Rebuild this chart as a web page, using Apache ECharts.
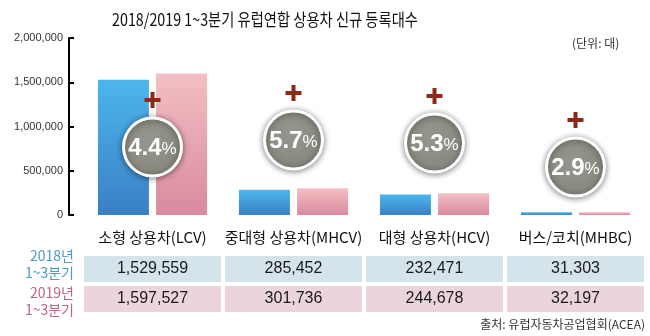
<!DOCTYPE html>
<html>
<head>
<meta charset="utf-8">
<script src="https://cdn.jsdelivr.net/npm/echarts@6/dist/echarts.min.js"></script>
<style>
  html, body { margin: 0; padding: 0; background: #fff; }
  #chart { width: 650px; height: 336px; }
</style>
</head>
<body>
<div id="chart"></div>
<script>
// EU commercial vehicle registrations, Q1–Q3 2018 vs 2019
const categories = ['소형 상용차(LCV)', '중대형 상용차(MHCV)', '대형 상용차(HCV)', '버스/코치(MHBC)'];
const units2018 = [1529559, 285452, 232471, 31303];
const units2019 = [1597527, 301736, 244678, 32197];
const growthPct = [4.4, 5.7, 5.3, 2.9];
const yTicks = [0, 500000, 1000000, 1500000, 2000000];

// badge layout (pixel centre of each growth circle)
const badgeCenterY = [147, 140, 143, 167];

const FONT = '"Liberation Sans", "Noto Sans CJK KR", sans-serif';
const KFONT = '"Noto Sans CJK KR", "Liberation Sans", sans-serif';

const chart = echarts.init(document.getElementById('chart'), null, { renderer: 'canvas' });

const fmt = v => v.toLocaleString('en-US');

const blueFill = new echarts.graphic.LinearGradient(0, 0, 0, 1, [
  { offset: 0, color: '#4db6ec' }, { offset: 1, color: '#3a7fc5' }
]);
const pinkFill = new echarts.graphic.LinearGradient(0, 0, 0, 1, [
  { offset: 0, color: '#f3bfc3' }, { offset: 1, color: '#d98a9e' }
]);

function renderBadge(params, api) {
  const idx = api.value(0);
  const g = api.value(1);
  const x = api.coord([idx, 0])[0];
  const cy = badgeCenterY[idx];
  return {
    type: 'group',
    children: [
      {
        type: 'circle',
        shape: { cx: x, cy: cy, r: 29 },
        style: {
          fill: new echarts.graphic.RadialGradient(0.45, 0.4, 0.7, [
            { offset: 0, color: '#97968e' }, { offset: 1, color: '#85847b' }
          ]),
          stroke: '#ffffff', lineWidth: 3,
          shadowBlur: 6, shadowColor: 'rgba(0,0,0,0.45)', shadowOffsetY: 1
        }
      },
      {
        type: 'text',
        style: {
          x: x, y: cy + 1,
          text: '{n|' + g.toFixed(1) + '}{p|%}',
          align: 'center', verticalAlign: 'middle',
          rich: {
            n: { fontFamily: FONT, fontWeight: 'bold', fontSize: 24, fill: '#ffffff' },
            p: { fontFamily: FONT, fontSize: 17, fill: '#ffffff', padding: [3, 0, 0, 0] }
          }
        }
      },
      { type: 'rect', shape: { x: x - 8, y: cy - 49, width: 16, height: 4 }, style: { fill: '#8a2a17' } },
      { type: 'rect', shape: { x: x - 2, y: cy - 55, width: 4, height: 16 }, style: { fill: '#8a2a17' } }
    ]
  };
}

function renderTable(params, api) {
  const idx = api.value(0);
  const x = api.coord([idx, 0])[0];
  const w = api.size([1, 0])[0] - 4;
  const rows = [
    { y: 256, fill: '#d4e4ea', v: api.value(1) },
    { y: 286, fill: '#ecd4db', v: api.value(2) }
  ];
  const children = [];
  rows.forEach(r => {
    children.push({
      type: 'rect',
      shape: { x: x - w / 2, y: r.y, width: w, height: 26 },
      style: { fill: r.fill }
    });
    children.push({
      type: 'text',
      style: {
        x: x, y: r.y + 13, text: fmt(r.v),
        align: 'center', verticalAlign: 'middle',
        fontFamily: FONT, fontSize: 16, fill: '#1a1a1a'
      }
    });
  });
  return { type: 'group', children: children };
}

const option = {
  backgroundColor: '#ffffff',
  animation: false,
  grid: { left: 82, right: 4, top: 38, bottom: 121 },
  xAxis: {
    type: 'category',
    data: categories,
    axisLine: { show: false },
    axisTick: { show: false },
    axisLabel: { interval: 0, margin: 15, fontFamily: KFONT, fontSize: 15, color: '#111' }
  },
  yAxis: {
    type: 'value',
    min: yTicks[0], max: yTicks[yTicks.length - 1], interval: yTicks[1] - yTicks[0],
    offset: 13,
    axisLine: { show: true, lineStyle: { color: '#000', width: 2 } },
    axisTick: { show: true, inside: true, length: 5, lineStyle: { color: '#000', width: 2 } },
    splitLine: { show: false },
    axisLabel: { margin: 6, fontFamily: FONT, fontSize: 11, color: '#333', formatter: fmt }
  },
  series: [
    { name: '2018', type: 'bar', data: units2018, barWidth: 51, barGap: '14%', itemStyle: { color: blueFill } },
    { name: '2019', type: 'bar', data: units2019, barWidth: 51, itemStyle: { color: pinkFill } },
    {
      type: 'custom', z: 5, clip: false,
      renderItem: renderBadge,
      data: growthPct.map((g, i) => [i, g])
    },
    {
      type: 'custom', z: 4, clip: false,
      renderItem: renderTable,
      data: units2018.map((v, i) => [i, v, units2019[i]])
    }
  ],
  graphic: [
    {
      type: 'text', x: 265, y: 20, scaleX: 0.84,
      style: {
        text: '2018/2019 1~3분기 유럽연합 상용차 신규 등록대수',
        align: 'center', verticalAlign: 'middle',
        fontFamily: KFONT, fontSize: 17, fill: '#111'
      }
    },
    { type: 'text', left: 572, top: 37, style: { text: '(단위: 대)', fontFamily: KFONT, fontSize: 12, fill: '#333' } },
    { type: 'text', x: 74, y: 256, style: { text: '2018년', align: 'right', verticalAlign: 'middle', fontFamily: KFONT, fontSize: 14, fill: '#4b9cc2' } },
    { type: 'text', x: 74, y: 273, style: { text: '1~3분기', align: 'right', verticalAlign: 'middle', fontFamily: KFONT, fontSize: 14, fill: '#4b9cc2' } },
    { type: 'text', x: 74, y: 293, style: { text: '2019년', align: 'right', verticalAlign: 'middle', fontFamily: KFONT, fontSize: 14, fill: '#c3627f' } },
    { type: 'text', x: 74, y: 310, style: { text: '1~3분기', align: 'right', verticalAlign: 'middle', fontFamily: KFONT, fontSize: 14, fill: '#c3627f' } },
    { type: 'text', x: 645, y: 324, style: { text: '출처: 유럽자동차공업협회(ACEA)', align: 'right', verticalAlign: 'middle', fontFamily: KFONT, fontSize: 12, fill: '#333' } }
  ]
};

chart.setOption(option);
</script>
</body>
</html>
